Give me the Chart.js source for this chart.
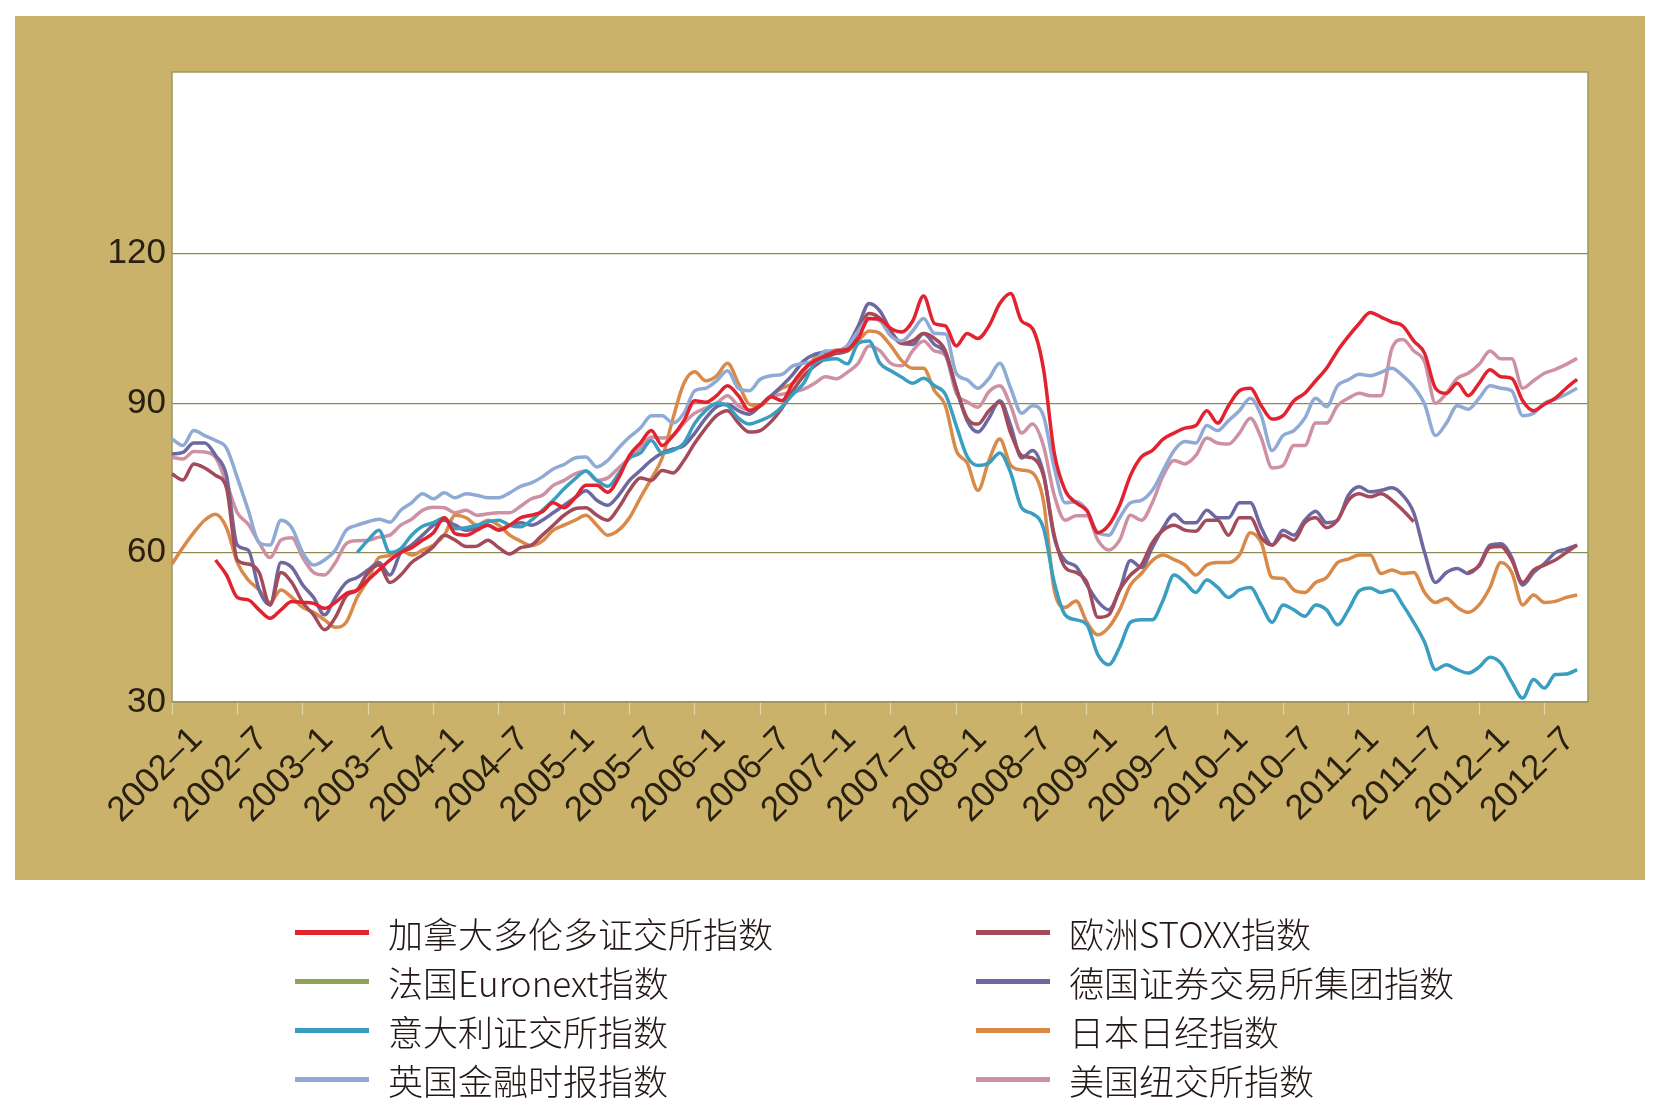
<!DOCTYPE html>
<html>
<head>
<meta charset="utf-8">
<script src="https://cdn.jsdelivr.net/npm/chart.js@4.4.1/dist/chart.umd.min.js"></script>
<style>
html,body{margin:0;padding:0;background:#ffffff;}
#wrap{position:relative;width:1663px;height:1114px;overflow:hidden;}
#chart{position:absolute;left:0;top:0;}
#legend{position:absolute;left:0;top:0;width:1663px;height:1114px;pointer-events:none;}
.item{position:absolute;height:50px;display:flex;align-items:center;white-space:nowrap;
  font-family:"Noto Sans CJK SC","Noto Sans",sans-serif;font-size:35px;font-weight:300;color:#231815;}
.swatch{display:inline-block;width:74px;height:5px;margin-right:19px;}
</style>
</head>
<body>
<div id="wrap">
  <canvas id="chart" width="1663" height="1114"></canvas>
  <div id="legend"></div>
</div>
<script>
// ---------- data ----------
const years = [2002, 2003, 2004, 2005, 2006, 2007, 2008, 2009, 2010, 2011, 2012];
const categories = [];
years.forEach(y => { for (let m = 1; m <= 12; m++) categories.push(y + '–' + m); });
categories.length = 131; // 2002–1 … 2012–11

const tickLabels = ['2002–1','2002–7','2003–1','2003–7','2004–1','2004–7','2005–1','2005–7',
  '2006–1','2006–7','2007–1','2007–7','2008–1','2008–7','2009–1','2009–7','2010–1','2010–7',
  '2011–1','2011–7','2012–1','2012–7'];
const yTicks = [30, 60, 90, 120];

const seriesNames = ['加拿大多伦多证交所指数','法国Euronext指数','意大利证交所指数','英国金融时报指数',
  '欧洲STOXX指数','德国证券交易所集团指数','日本日经指数','美国纽交所指数'];

const toronto = [null,null,null,null,58.5,55.5,51,50.5,48.5,46.8,
  48.5,50.2,50,49.8,48.8,50,51.8,52.5,54.5,56.5,
  58.5,60,61,62.5,64,67,63.8,63.5,64.5,65.5,
  64.5,65.5,67,67.5,68.2,70,69,71,73.5,73.5,
  72.1,75,79.5,82,84.5,81.5,83.5,86.5,90.5,90.2,
  91.5,93.5,91.5,88.5,89.5,91.3,90.5,94,96.8,98.5,
  99.5,100.5,100.8,103,107,106.8,105,104.3,106.5,111.5,
  106,105.5,101.5,104,103,105.5,110,112,106.5,105,
  97,80,72.5,70,68.4,64,65.5,69.5,75.5,79.2,
  80.5,82.8,84,85,85.5,88.5,86,89.5,92.5,93,
  89.5,86.8,87.5,90.5,92,94.5,97,100.5,103.4,106,
  108.2,107.3,106.3,105.5,102.5,100,93,92,94,91.5,
  94,96.7,95.3,95,90.5,88.5,89.8,91,93,94.8];

const euronext = [];

const italy = [null,null,null,null,null,null,null,null,null,null,
  null,null,null,null,null,null,null,60,62.5,64.5,
  60,60.8,63.5,65.3,66,67,64.8,65,65.5,66.2,
  66.5,65.5,65.2,66.5,68.5,70.5,72.8,74.8,76.4,74.5,
  73.3,75.8,79,80,82.5,80,80.5,82,86,88.5,
  90,89.5,87,85.8,86.5,87.5,89.3,91.8,94,98,
  98.7,98.9,97.9,102,102.5,98,96.5,95.2,94,95,
  93.5,91.8,85.5,79.3,77.5,78,80,76,69,67.8,
  65,54,47.5,46.5,45.5,39.5,37.5,41,46,46.5,
  46.5,50.5,55.5,54,52,54.5,53,51,52.5,53,
  49.5,46,49.5,48.5,47.2,49.5,48.5,45.5,48.5,52.3,
  52.9,52,52.5,49.5,46,42,36.5,37.5,36.5,35.8,
  37,39,37.8,34,30.8,34.5,32.8,35.5,35.6,36.5];

const ftse = [82.8,81.5,84.5,83.5,82.5,81,75,68.5,62,61.5,
  66.5,65,60,57.5,58.5,60.5,64.5,65.5,66.2,66.7,
  66.1,68.5,70,71.8,70.8,72,71,71.8,71.5,71,
  71,72,73.3,74,75.2,76.8,77.7,79,79.2,77.2,
  78.5,81,83.2,85,87.5,87.5,86,88,92.5,93,
  94.5,96.5,93,92.5,94.8,95.5,95.8,97.5,98,98.5,
  100.5,100.5,101.5,104.5,107,106.5,103.5,102.5,104.5,107,
  104,103.9,96,94.7,93,95,98,93,88,89.5,
  87.5,77,70,70.2,68.5,64,63.5,67,70,70.5,
  72.5,76.5,80.5,82.3,82,85.5,84.5,86.5,88.5,91,
  87.5,80.5,83.5,84.5,87,91,89.3,93.5,94.7,95.8,
  95.5,96.2,97,95.5,93.3,89.8,83.5,86,89.5,88.8,
  91,93.5,93,92.5,87.5,88,90,90.8,91.8,93];

const stoxx = [75.8,74.6,77.8,77,75.5,73,58.5,57.7,56,49.5,
  56,54,50,47.5,44.5,47,51.3,52.5,56,57.5,
  54,55.5,58,59.5,61.2,63.5,62.5,61.2,61.3,62.5,
  61,59.7,61,61.5,63.5,65.5,67.5,68.8,69,67.5,
  66.5,69,72.5,75,74.5,76.5,76,78.5,82,85,
  87.5,88.5,86,84.2,84.5,86.3,89,92.5,95.5,97.5,
  99,100,100.5,104.5,108,107,104,102,102.5,104,
  103,100.5,93,87,85.8,88.5,90.2,84,79.5,79,
  75.5,63.5,57,56,54,47,47.5,52.5,55.5,57.5,
  62,64.5,65.5,64.5,64.3,66.5,66.5,63.5,67,67,
  63,61.5,63.5,62.5,66,67,65,66.5,70.5,71.8,
  71.2,71.8,70.5,68.5,66.2,null,null,null,null,56,
  57.3,61,61.2,58.5,54,56.5,57.5,58.5,60,61.5];

const germany = [79.8,80.1,82,82,79.5,75.5,61.5,60.5,52.5,49.5,
  58,57,53.5,51,47.5,51,54,55,56.5,58,
  55.5,60,61.5,63.5,65.5,66.5,65.5,64.5,65,65.5,
  64.6,65.5,66,65.5,66.5,68,69.5,71,72.4,70.5,
  69.5,71.5,74.5,76.5,78.5,80,80.8,81.5,84,87,
  89.3,89.8,88.5,87.8,89.5,91.5,93.5,95.8,98.5,99.8,
  100.3,100.5,101.5,105.5,110,108.5,104.5,102,101.8,104,
  101.8,100,93,86.5,84.2,87,90.5,85.5,79,80.5,
  76,63,58.4,57.2,53.5,50.2,48.5,52.5,58.4,57,
  61,65,67.7,66,66,68.5,67,67,70,70,
  65,61.5,64.5,63.5,66.5,68.3,66,66.5,71.5,73.2,
  72.2,72.5,73,71.5,68,60,54,56,56.8,55.8,
  57.5,61.5,61.8,59,53.5,56,57.8,60,60.7,61.5];

const nikkei = [57.7,61,64,66.5,67.7,65,58,54.5,52.5,50,
  52.5,51,49,48,46.5,45,46,51,54.5,59,
  59.4,60.5,59.5,60.5,61.5,63.5,67.5,67,65.5,66.5,
  65.5,63.5,62.3,61.4,62.3,64.5,65.5,66.5,67.5,65.5,
  63.5,64.5,67,71,74.8,79,87,94,96.3,94.5,
  95.5,98,94,89.8,89.5,91.5,93,94,96.5,99,
  100,100.7,100.5,102.5,104.5,104,101.5,98.5,97,97,
  92.5,89.5,80.5,78,72.5,78.5,82.8,77.5,76.6,76,
  70.4,52.5,49,50.3,46,43.5,45,48.5,53.5,55.8,
  58.4,59.5,58.6,57.5,55.5,57.5,58,58,59.5,64,
  62,55,54.8,52.5,52,54,55,58,58.7,59.5,
  59.5,55.8,56.5,55.8,56,52,50,50.8,49,48,
  49.5,53,58,56,49.5,51.5,50,50.2,51,51.5];

const nyse = [79.1,78.8,80.3,80.2,79.1,74,68,65.7,62,59,
  62.5,63,59,56,55.5,58,61.8,62.4,62.5,63.1,
  63.5,65.5,66.7,68.5,69.1,69,68,68.5,67.5,67.8,
  68,68,69.3,70.8,71.5,73.5,74.5,75.8,76.4,74.5,
  75,77,79,81,83.2,83,83.5,86,88,89,
  90,91.5,89.5,88.7,89.5,91.3,91.8,92.2,92.8,94,
  95.3,94.9,96.2,98,101.5,100.5,98,97.5,100.5,102.5,
  100.5,99.6,92,90.3,89.2,92.3,93.5,89.5,84,85.8,
  81.5,71.5,66.5,67.4,67.4,62.5,60.5,62.5,67.5,66.5,
  70,75.5,78.5,77.8,79.5,83,82,81.8,84,87,
  83,77,77.5,81.5,81.5,86,86,89.5,91,92,
  91.5,91.5,101,102.8,100.5,98.3,90,92,95,96,
  97.8,100.5,98.9,98.9,93,94.5,96,96.8,97.8,99];

const seriesValues = [toronto, euronext, italy, ftse, stoxx, germany, nikkei, nyse];
const seriesColors = ['#E2222F','#8FA35B','#3A9EC0','#8FAAD5','#A34B5B','#6D689F','#D98A48','#CE91A3'];

// ---------- layout helpers ----------
const legendRowY = [932, 981, 1030, 1079];
const legendColX = [295, 976];

const bgPlugin = {
  id: 'bg',
  beforeDraw(chart) {
    const { ctx, chartArea: a } = chart;
    ctx.save();
    ctx.fillStyle = '#FFFFFF';
    ctx.fillRect(0, 0, chart.width, chart.height);
    ctx.fillStyle = '#CBB26A';
    ctx.fillRect(15, 16, 1630, 864);
    ctx.fillStyle = '#FFFFFF';
    ctx.fillRect(a.left, a.top, a.right - a.left, a.bottom - a.top);
    ctx.restore();
  },
  beforeDatasetsDraw(chart) {
    const { ctx, chartArea: a } = chart;
    ctx.save();
    ctx.strokeStyle = '#9E9660';
    ctx.lineWidth = 1.5;
    ctx.strokeRect(a.left, a.top, a.right - a.left, a.bottom - a.top);
    ctx.restore();
  }
};

const tickFont = { family: "'Liberation Sans', Arial, sans-serif", size: 35 };

const chart = new Chart(document.getElementById('chart'), {
  type: 'line',
  data: {
    labels: categories,
    datasets: seriesNames.map((name, i) => ({
      label: name,
      data: seriesValues[i],
      borderColor: seriesColors[i],
      backgroundColor: seriesColors[i],
      borderWidth: 3.5,
      pointRadius: 0,
      cubicInterpolationMode: 'monotone',
      spanGaps: false,
      fill: false
    }))
  },
  options: {
    responsive: false,
    animation: false,
    events: [],
    layout: { padding: { left: 15, top: 72, right: 75, bottom: 234 } },
    plugins: { legend: { display: false }, tooltip: { enabled: false } },
    scales: {
      x: {
        type: 'category',
        offset: false,
        grid: { display: true, drawOnChartArea: false, drawTicks: true, tickLength: 13,
                tickColor: '#E2D6A6', tickWidth: 1.2 },
        border: { display: false },
        ticks: {
          autoSkip: false, minRotation: 45, maxRotation: 45,
          font: tickFont, color: '#2A2012', padding: 4, labelOffset: 25,
          callback: function (value) {
            const lab = this.getLabelForValue(value);
            return tickLabels.includes(lab) ? lab : null;
          }
        },
        afterFit: (axis) => { axis.height = 178; }
      },
      y: {
        min: 30, max: 156.5,
        afterBuildTicks: (axis) => { axis.ticks = yTicks.map(v => ({ value: v })); },
        grid: { color: '#8F8A52', lineWidth: 1.3, drawTicks: false },
        border: { display: false },
        ticks: { font: tickFont, color: '#2A2012', padding: 6 },
        afterFit: (axis) => { axis.width = 157; }
      }
    }
  },
  plugins: [bgPlugin]
});

// ---------- HTML legend from datasets (two columns) ----------
const legendEl = document.getElementById('legend');
chart.data.datasets.forEach((ds, i) => {
  const col = i < 4 ? 0 : 1;
  const row = i % 4;
  const div = document.createElement('div');
  div.className = 'item';
  div.style.left = legendColX[col] + 'px';
  div.style.top = (legendRowY[row] - 25) + 'px';
  const sw = document.createElement('span');
  sw.className = 'swatch';
  sw.style.background = ds.borderColor;
  const tx = document.createElement('span');
  tx.textContent = ds.label;
  div.appendChild(sw);
  div.appendChild(tx);
  legendEl.appendChild(div);
});
</script>
</body>
</html>
